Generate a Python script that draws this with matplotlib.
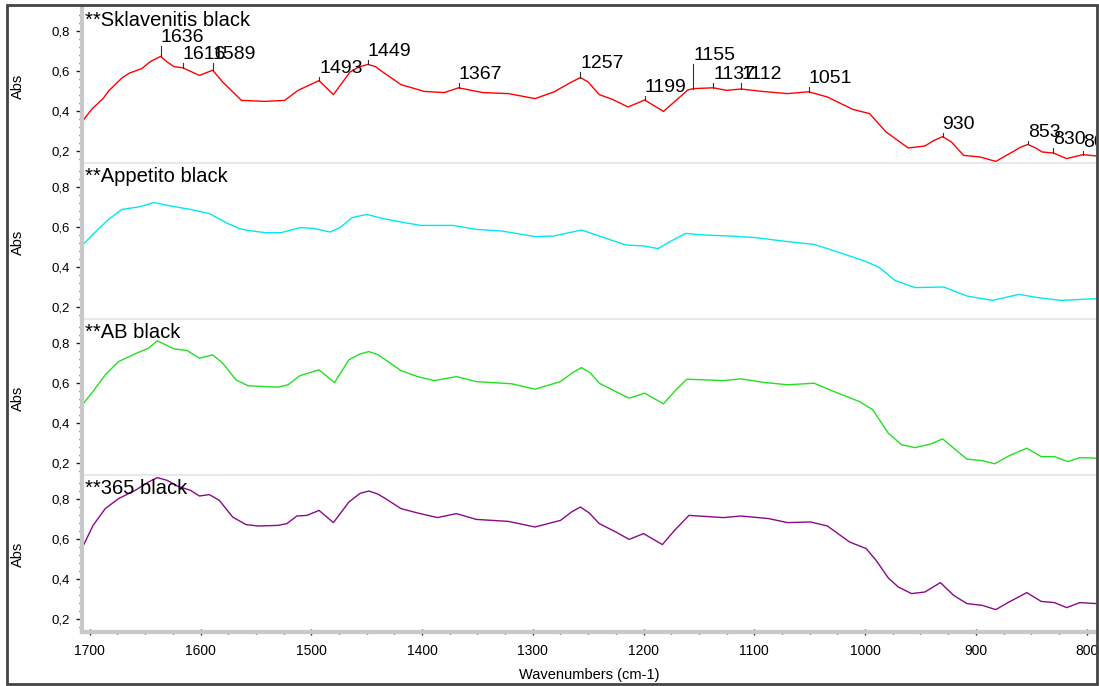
import matplotlib.pyplot as plt
import numpy as np
from matplotlib.patches import Rectangle
from matplotlib.ticker import MultipleLocator, FuncFormatter

plt.rcParams['font.family'] = ['Liberation Sans', 'DejaVu Sans']

# spectra: wavenumber (cm-1) / absorbance
wn_sklav = [1706, 1698, 1688, 1683, 1671, 1664, 1653, 1645, 1636, 1630, 1624, 1616, 1601, 1589,
            1580, 1563, 1542, 1524, 1512, 1493, 1480, 1465, 1457, 1449, 1442, 1436, 1419, 1398,
            1380, 1367, 1345, 1322, 1298, 1281, 1265, 1257, 1250, 1240, 1228, 1214, 1199, 1182,
            1160, 1155, 1137, 1125, 1112, 1093, 1070, 1051, 1034, 1011, 996, 981, 961, 946, 938,
            930, 922, 911, 896, 882, 867, 860, 853, 846, 840, 830, 818, 803, 791]
abs_sklav = [0.353, 0.410, 0.462, 0.500, 0.565, 0.590, 0.612, 0.648, 0.673, 0.645, 0.622, 0.616,
             0.578, 0.604, 0.545, 0.453, 0.448, 0.453, 0.503, 0.552, 0.482, 0.595, 0.620, 0.633,
             0.622, 0.597, 0.532, 0.498, 0.492, 0.516, 0.492, 0.487, 0.462, 0.495, 0.545, 0.567,
             0.545, 0.482, 0.458, 0.420, 0.455, 0.398, 0.505, 0.512, 0.516, 0.503, 0.510, 0.498,
             0.487, 0.496, 0.470, 0.408, 0.387, 0.295, 0.215, 0.225, 0.252, 0.272, 0.245, 0.178,
             0.170, 0.148, 0.195, 0.218, 0.233, 0.215, 0.195, 0.190, 0.162, 0.182, 0.175]

wn_appet = [1706, 1694, 1683, 1671, 1656, 1642, 1627, 1609, 1592, 1577, 1565, 1557, 1542, 1527,
            1510, 1498, 1483, 1474, 1463, 1450, 1436, 1416, 1401, 1372, 1351, 1328, 1298, 1281,
            1256, 1240, 1216, 1199, 1187, 1175, 1162, 1146, 1122, 1099, 1070, 1046, 1023, 999,
            987, 973, 955, 929, 908, 885, 861, 844, 823, 791]
abs_appet = [0.513, 0.580, 0.638, 0.688, 0.700, 0.722, 0.705, 0.688, 0.667, 0.622, 0.592, 0.583,
             0.572, 0.572, 0.597, 0.593, 0.575, 0.597, 0.647, 0.663, 0.643, 0.622, 0.608, 0.608,
             0.588, 0.580, 0.552, 0.555, 0.585, 0.555, 0.510, 0.505, 0.492, 0.530, 0.568, 0.560,
             0.555, 0.547, 0.527, 0.513, 0.472, 0.427, 0.397, 0.333, 0.297, 0.300, 0.255, 0.233,
             0.263, 0.247, 0.233, 0.242]

wn_ab = [1706, 1697, 1686, 1674, 1659, 1647, 1639, 1624, 1612, 1601, 1589, 1580, 1568, 1557,
         1530, 1521, 1510, 1493, 1479, 1466, 1456, 1448, 1440, 1433, 1419, 1404, 1389, 1369,
         1351, 1319, 1298, 1275, 1264, 1256, 1248, 1240, 1225, 1213, 1199, 1182, 1172, 1161,
         1128, 1112, 1093, 1070, 1046, 1028, 1005, 993, 979, 967, 955, 940, 930, 920, 908, 894,
         883, 870, 854, 841, 829, 817, 806, 791]
abs_ab = [0.496, 0.558, 0.641, 0.707, 0.746, 0.774, 0.811, 0.771, 0.762, 0.724, 0.741, 0.699,
          0.616, 0.586, 0.579, 0.591, 0.637, 0.666, 0.602, 0.716, 0.745, 0.757, 0.742, 0.716,
          0.662, 0.632, 0.612, 0.632, 0.607, 0.596, 0.569, 0.607, 0.652, 0.677, 0.650, 0.599,
          0.557, 0.524, 0.549, 0.496, 0.558, 0.619, 0.612, 0.621, 0.604, 0.591, 0.599, 0.557,
          0.507, 0.466, 0.349, 0.291, 0.277, 0.296, 0.321, 0.274, 0.219, 0.212, 0.196, 0.236,
          0.274, 0.232, 0.232, 0.207, 0.227, 0.224]

wn_365 = [1706, 1697, 1686, 1674, 1659, 1647, 1639, 1630, 1621, 1609, 1601, 1592, 1583, 1571,
          1559, 1548, 1530, 1522, 1513, 1504, 1493, 1480, 1466, 1456, 1448, 1440, 1433, 1419,
          1404, 1386, 1369, 1351, 1322, 1298, 1275, 1265, 1257, 1249, 1240, 1225, 1213, 1200,
          1183, 1172, 1159, 1128, 1112, 1087, 1070, 1049, 1034, 1014, 999, 990, 979, 970, 958,
          946, 932, 920, 908, 894, 882, 870, 854, 841, 829, 818, 806, 791]
abs_365 = [0.565, 0.668, 0.752, 0.802, 0.843, 0.885, 0.907, 0.893, 0.865, 0.843, 0.815, 0.822,
           0.793, 0.710, 0.672, 0.665, 0.668, 0.677, 0.715, 0.718, 0.743, 0.682, 0.785, 0.828,
           0.840, 0.825, 0.802, 0.752, 0.730, 0.707, 0.727, 0.698, 0.688, 0.660, 0.693, 0.735,
           0.760, 0.730, 0.677, 0.635, 0.598, 0.627, 0.572, 0.643, 0.718, 0.707, 0.715, 0.702,
           0.682, 0.685, 0.665, 0.585, 0.552, 0.493, 0.405, 0.360, 0.327, 0.335, 0.382, 0.318,
           0.277, 0.268, 0.247, 0.285, 0.332, 0.288, 0.282, 0.257, 0.282, 0.277]

names = ['**Sklavenitis black', '**Appetito black', '**AB black', '**365 black']
colors = ['#ff0000', '#00e8f0', '#22e022', '#8a0a8a']
spectra = [(wn_sklav, abs_sklav), (wn_appet, abs_appet), (wn_ab, abs_ab), (wn_365, abs_365)]

# peak picks on the first spectrum
peaks = [1636, 1616, 1589, 1493, 1449, 1367, 1257, 1199, 1155, 1137, 1112, 1051, 930, 853, 830, 803]
label_h = [0.725, 0.638, 0.638, 0.572, 0.657, 0.542, 0.597, 0.477, 0.637, 0.542, 0.542, 0.522,
           0.292, 0.252, 0.217, 0.202]

W, H = 1099, 686
fig = plt.figure(figsize=(W / 100, H / 100), dpi=100)

left_px, right_px, top_px, ph = 82, 1096, 8, 156
comma = FuncFormatter(lambda v, p: ('%.1f' % v).replace('.', ','))

for i, ((wn, ab), name, col) in enumerate(zip(spectra, names, colors)):
    bot_px = top_px + ph * (i + 1)
    ax = fig.add_axes([left_px / W, 1 - bot_px / H, (right_px - left_px) / W, ph / H])
    ax.plot(wn, ab, color=col, lw=1.0, solid_joinstyle='round')
    ax.set_xlim(1707, 791.5)
    ax.set_ylim(0.135, 0.915)

    ax.spines['top'].set_visible(False)
    ax.spines['right'].set_visible(False)
    ax.spines['left'].set_color('#c8c8c8')
    ax.spines['left'].set_linewidth(3)
    ax.spines['bottom'].set_linewidth(3)

    ax.yaxis.set_major_locator(MultipleLocator(0.2))
    ax.yaxis.set_minor_locator(MultipleLocator(0.04))
    ax.yaxis.set_major_formatter(comma)
    ax.tick_params(axis='y', which='major', direction='out', length=4, width=1,
                   color='#222222', labelsize=9.5, pad=5)
    ax.tick_params(axis='y', which='minor', direction='out', length=2, width=1, color='#222222')
    ax.text(-0.063, 0.5, 'Abs', transform=ax.transAxes, rotation=90,
            ha='center', va='center', fontsize=10.5)

    if i < 3:
        ax.spines['bottom'].set_color('#e8e8e8')
        ax.tick_params(axis='x', which='both', bottom=False, labelbottom=False)
    else:
        ax.spines['bottom'].set_color('#c8c8c8')
        ax.xaxis.set_major_locator(MultipleLocator(100))
        ax.xaxis.set_minor_locator(MultipleLocator(25))
        ax.tick_params(axis='x', which='major', direction='inout', length=5, width=1,
                       color='#222222', labelsize=10, pad=6)
        ax.tick_params(axis='x', which='minor', direction='inout', length=3, width=1,
                       color='#222222')
        ax.set_xlabel('Wavenumbers (cm-1)', fontsize=10.5, labelpad=7)

    ax.text(0.003, 0.98, name, transform=ax.transAxes, ha='left', va='top', fontsize=14.5)

    if i == 0:
        for pk, h in zip(peaks, label_h):
            y0 = np.interp(pk, wn[::-1], ab[::-1])
            ax.plot([pk, pk], [y0, h], color='#333333', lw=0.8)
            ax.text(pk, h, str(pk), ha='left', va='bottom', fontsize=14, clip_on=True)

frame = Rectangle((7 / W, 2 / H), 1090 / W, 679 / H, transform=fig.transFigure,
                  fill=False, edgecolor='#444444', lw=2, zorder=10)
fig.add_artist(frame)

fig.savefig('out.png', dpi=100)
